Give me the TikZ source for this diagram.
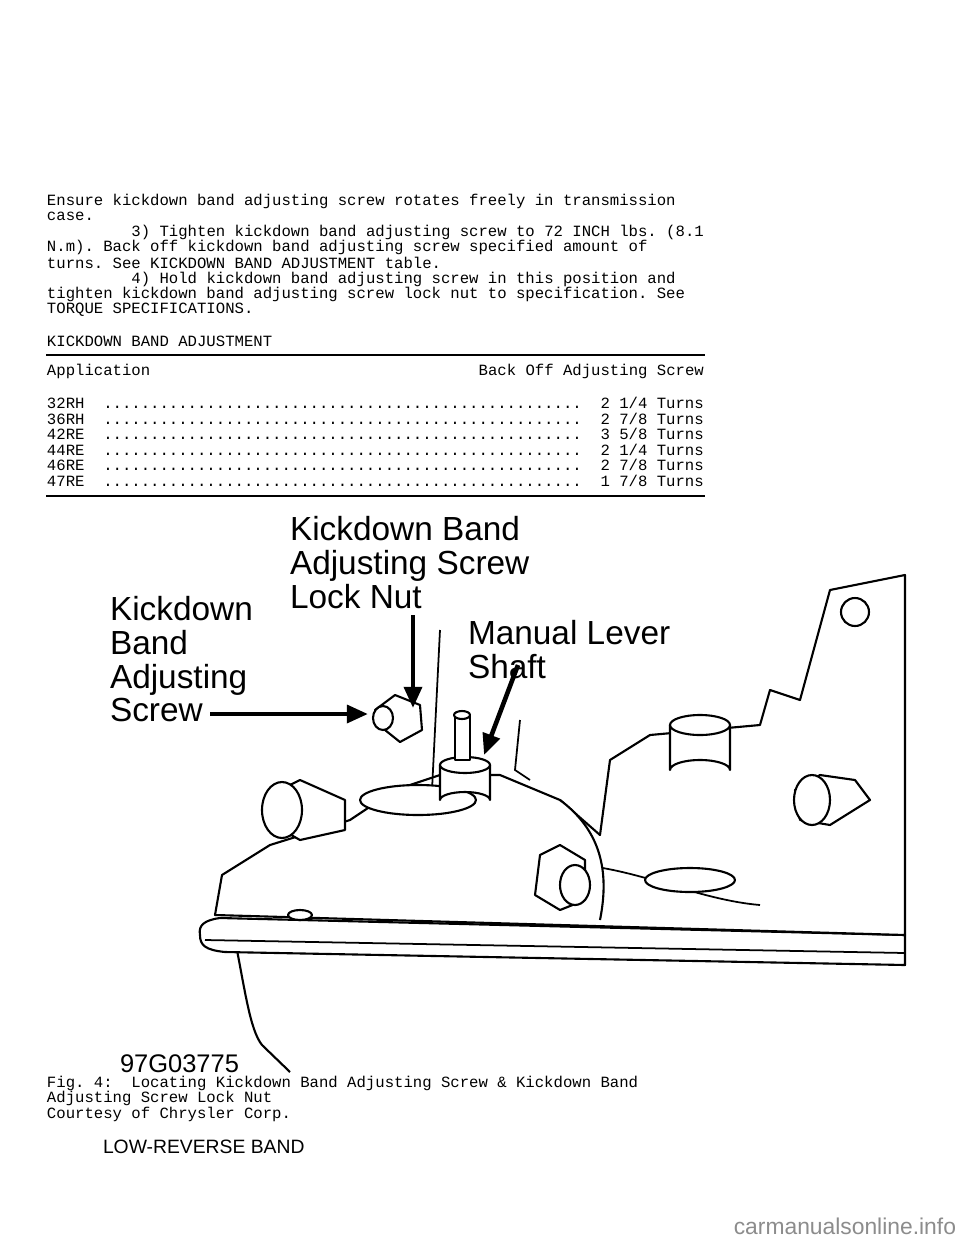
\documentclass[tikz,border=0pt]{standalone}
\usepackage{fontspec}
\setmainfont{Liberation Sans}
\setmonofont{Liberation Mono}
\usetikzlibrary{calc}
\usetikzlibrary{arrows.meta}
\usetikzlibrary{positioning}

\begin{document}
\begin{tikzpicture}[x=0.02cm,y=-0.02cm]
    \tikzstyle{every node}=[inner sep=0pt,outer sep=0pt]
    \tikzstyle{mono}=[anchor=west,font=\ttfamily\fontsize{8.9}{9}\selectfont]
    \tikzstyle{callout}=[anchor=north west,align=left,font=\fontsize{19}{19.3}\selectfont]
    \tikzstyle{part}=[draw=black,line width=1.2pt,line join=round,fill=white]
    \tikzstyle{pointer}=[line width=2.6pt,-{Triangle[length=12pt,width=10pt]}]

    \fill[white] (0,0) rectangle (960,1242);
    \useasboundingbox (0,0) rectangle (960,1242);

    % page text
    \node[mono] (l1) at (47,201) {Ensure kickdown band adjusting screw rotates freely in transmission};
    \node[mono] (l2) at (47,216) {case.};
    \node[mono] (l3) at (47,232) {\ \ \ \ \ \ \ \ \ 3) Tighten kickdown band adjusting screw to 72 INCH lbs. (8.1};
    \node[mono] (l4) at (47,247) {N.m). Back off kickdown band adjusting screw specified amount of};
    \node[mono] (l5) at (47,263) {turns. See KICKDOWN BAND ADJUSTMENT table.};
    \node[mono] (l6) at (47,279) {\ \ \ \ \ \ \ \ \ 4) Hold kickdown band adjusting screw in this position and};
    \node[mono] (l7) at (47,294) {tighten kickdown band adjusting screw lock nut to specification. See};
    \node[mono] (l8) at (47,310) {TORQUE SPECIFICATIONS.};
    \node[mono] (title) at (47,341) {KICKDOWN BAND ADJUSTMENT};
    \draw[line width=0.8pt] (46,355) -- (705,355);
    \node[mono] (head) at (47,371) {Application\ \ \ \ \ \ \ \ \ \ \ \ \ \ \ \ \ \ \ \ \ \ \ \ \ \ \ \ \ \ \ \ \ \ \ Back Off Adjusting Screw};
    \foreach \i/\app/\val in {0/32RH/2 1\slash4,1/36RH/2 7\slash8,2/42RE/3 5\slash8,3/44RE/2 1\slash4,4/46RE/2 7\slash8,5/47RE/1 7\slash8}{
      \node[mono] (row\i) at (47,403+\i*15.6) {\app\ \ ...................................................\ \ \val\ Turns};
    }
    \draw[line width=0.8pt] (46,496) -- (705,496);

    % drawing
    \draw[part] (235,940) .. controls (245,990) and (250,1030) .. (262,1045) -- (290,1072);
    \draw[part] (200,935) .. controls (198,925) and (205,920) .. (220,918) -- (905,935) -- (905,965) -- (225,952) .. controls (205,950) and (200,945) .. (200,935);
    \draw[line width=1pt] (205,940) -- (905,953);
    \draw[part] (215,915) -- (222,875) -- (270,845) -- (350,820) -- (395,790) -- (440,775) -- (500,775) -- (560,800) -- (600,835) -- (610,760) -- (650,735) -- (760,725) -- (770,690) -- (800,700) -- (830,590) -- (905,575) -- (905,935) -- cycle;
    \draw[line width=1pt] (440,630) -- (432,790);
    \draw[line width=1pt] (520,720) -- (515,770) -- (530,780);
    \draw[line width=1pt] (580,865) .. controls (640,870) and (700,900) .. (760,905);
    \draw[part] (690,880) ellipse (45 and 12);
    \draw[part] (560,800) .. controls (600,830) and (610,870) .. (600,920);
    % shaft
    \draw[part] (418,800) ellipse (58 and 15);
    \draw[part] (440,765) -- (440,800) arc[start angle=180,end angle=360,x radius=25,y radius=8] -- (490,765);
    \draw[part] (465,765) ellipse (25 and 8);
    \draw[part] (455,715) -- (455,760) -- (470,760) -- (470,715);
    \draw[part] (462,715) ellipse (8 and 4);
    % bolts
    \draw[part] (385,730) -- (375,710) -- (395,695) -- (420,705) -- (422,730) -- (400,742) -- cycle;
    \draw[part] (383,718) ellipse (10 and 12);
    \draw[part] (855,612) circle (14);
    \draw[part] (540,855) -- (560,845) -- (585,860) -- (585,900) -- (560,910) -- (535,895) -- cycle;
    \draw[part] (575,885) ellipse (15 and 20);
    % fittings
    \draw[part] (345,800) -- (300,780) -- (270,795) -- (265,820) -- (300,840) -- (345,830) -- cycle;
    \draw[part] (282,810) ellipse (20 and 28);
    \draw[part] (855,780) -- (820,775) -- (795,790) -- (800,820) -- (830,825) -- (870,800) -- cycle;
    \draw[part] (812,800) ellipse (18 and 25);
    \draw[part] (670,725) -- (670,770) arc[start angle=180,end angle=360,x radius=30,y radius=10] -- (730,725);
    \draw[part] (700,725) ellipse (30 and 10);
    \draw[part] (300,915) ellipse (12 and 5);

    % callouts
    \node[callout] (kbs) at (110,596) {Kickdown\\Band\\Adjusting\\Screw};
    \node[callout] (kbn) at (290,516) {Kickdown Band\\Adjusting Screw\\Lock Nut};
    \node[callout] (mls) at (468,620) {Manual Lever\\Shaft};
    \coordinate (screwtip) at (368,714);
    \coordinate (nuttip) at (413,708);
    \coordinate (shafttip) at (484,755);
    \draw[pointer] (210,714) -- (screwtip);
    \draw[pointer] (413,615) -- (nuttip);
    \draw[pointer] (518,665) -- (shafttip);
    \node[anchor=west,font=\fontsize{14.5}{15}\selectfont] (code) at (120,1064) {97G03775};

    % caption
    \node[mono] (c1) at (47,1083) {Fig. 4:\ \ Locating Kickdown Band Adjusting Screw \& Kickdown Band};
    \node[mono] (c2) at (47,1098) {Adjusting Screw Lock Nut};
    \node[mono] (c3) at (47,1114) {Courtesy of Chrysler Corp.};
    \node[anchor=west,font=\fontsize{11}{11}\selectfont] (next) at (103,1147) {LOW-REVERSE BAND};
    \node[anchor=east,text=black!45,font=\fontsize{13}{13}\selectfont] (mark) at (956,1226) {carmanualsonline.info};
\end{tikzpicture}
\end{document}
